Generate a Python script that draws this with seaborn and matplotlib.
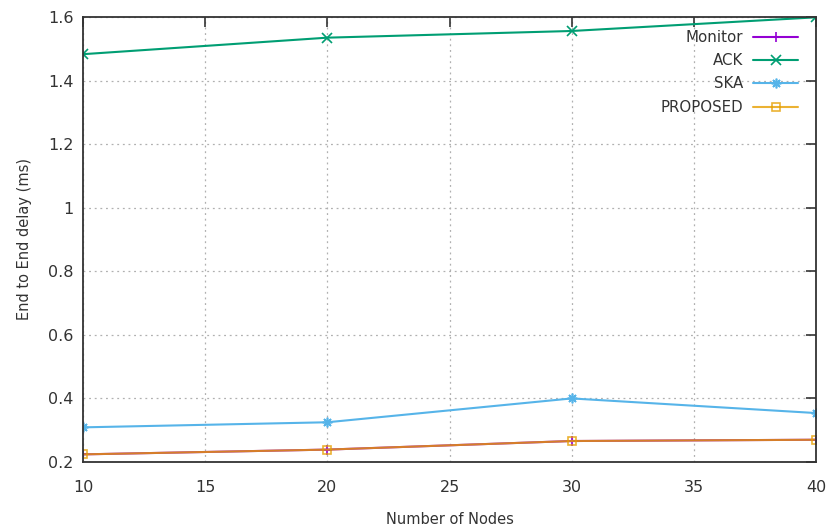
import matplotlib
matplotlib.use("Agg")
import matplotlib.pyplot as plt
import seaborn as sns
import pandas as pd
from matplotlib.ticker import FuncFormatter

nodes = [10, 20, 30, 40]
monitor = [0.224, 0.239, 0.266, 0.270]
ack = [1.483, 1.535, 1.556, 1.599]
ska = [0.309, 0.325, 0.400, 0.354]
proposed = [0.224, 0.239, 0.266, 0.270]

series_names = ["Monitor", "ACK", "SKA", "PROPOSED"]
series_values = [monitor, ack, ska, proposed]

sns.set_theme(style="white")
plt.rcParams['font.family'] = ['DejaVu Sans']

fig = plt.figure(figsize=(8.27, 5.29), dpi=100)
ax = fig.add_axes([83/827, 1-462/529, (816-83)/827, (462-17)/529])

colors = {"Monitor": "#9400d3", "ACK": "#009e73", "SKA": "#56b4e9", "PROPOSED": "#e69f00"}
markers = {"Monitor": "+", "ACK": "x", "SKA": (8, 2, 0), "PROPOSED": "s"}

for name, vals in zip(series_names, series_values):
    df = pd.DataFrame({"x": nodes, "y": vals})
    kw = dict(markersize=7, markeredgewidth=1.2)
    if name == "PROPOSED":
        kw.update(markerfacecolor="none", markeredgecolor=colors[name], markersize=6, alpha=0.8)
    else:
        kw.update(markeredgecolor=colors[name])
    sns.lineplot(data=df, x="x", y="y", ax=ax, color=colors[name], marker=markers[name],
                 linewidth=1.5, label=name, **kw)

ax.set_xlim(10, 40)
ax.set_ylim(0.2, 1.6)
ax.set_xticks([10, 15, 20, 25, 30, 35, 40])
ax.set_yticks([0.2, 0.4, 0.6, 0.8, 1.0, 1.2, 1.4, 1.6])
ax.yaxis.set_major_formatter(FuncFormatter(lambda v, p: f"{v:g}"))

ax.grid(True, color="#b0b0b0", linestyle=(0, (1.5, 3)), linewidth=0.9)
ax.tick_params(axis="both", which="major", direction="in", length=7, width=1.2,
               top=True, right=True, labelsize=11.5, colors="#333333")
ax.tick_params(axis="y", pad=7)
ax.tick_params(axis="x", pad=13)
for s in ax.spines.values():
    s.set_color("#333333")
    s.set_linewidth(1.3)

ax.set_xlabel("Number of Nodes", fontsize=10.5, color="#333333", labelpad=12)
ax.set_ylabel("End to End delay (ms)", fontsize=10.5, color="#333333", labelpad=11)

leg = ax.legend(loc="upper right", bbox_to_anchor=(798/827, 1-30/529),
                bbox_transform=fig.transFigure, frameon=False, markerfirst=False,
                fontsize=10.8, handlelength=3.0, handletextpad=0.65, labelspacing=0.55,
                borderpad=0, borderaxespad=0)
for t in leg.get_texts():
    t.set_color("#333333")

fig.savefig("out.png", dpi=100)
